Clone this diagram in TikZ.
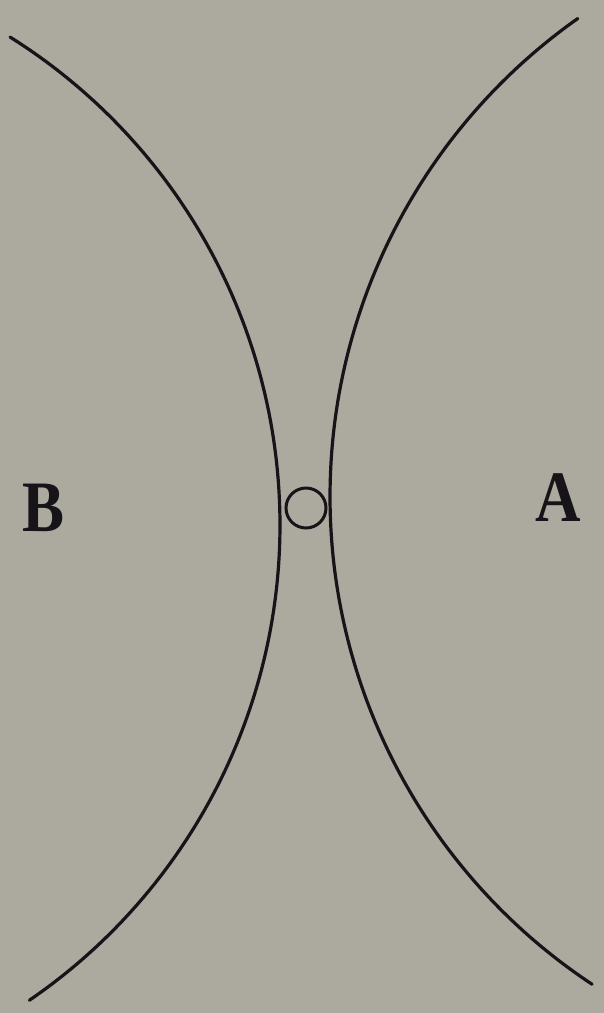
\documentclass[tikz,border=0pt]{standalone}
\usepackage{fontspec}
\setmainfont{Liberation Serif}
\definecolor{paper}{RGB}{172,169,158}
\definecolor{ink}{RGB}{22,20,24}
\begin{document}
\begin{tikzpicture}[x=1pt,y=-1pt,
  curve/.style={draw=ink,line width=3.2pt,line cap=round},
  lbl/.style={text=ink,font=\fontsize{63}{63}\selectfont\bfseries,inner sep=0pt}]
\fill[paper] (0,0) rectangle (604,1013);
\useasboundingbox (0,0) rectangle (604,1013);
% left boundary: circular arc, centre (-296,525), radius 576
\draw[curve] plot[domain=-57.9:55.6,samples=120,smooth] ({-296+576*cos(\x)},{525+576*sin(\x)});
% right boundary: circular arc, centre (915,496.5), radius 585
\draw[curve] plot[domain=123.5:234.8,samples=120,smooth] ({915+585*cos(\x)},{496.5+585*sin(\x)});
\node[draw=ink,line width=3pt,circle,minimum size=40pt,inner sep=0pt] (o) at (306,508) {};
\node[lbl] (B) at (44,508) {\scalebox{1}[1.15]{B}};
\node[lbl] (A) at (558,498) {\scalebox{1}[1.15]{A}};
\end{tikzpicture}
\end{document}
